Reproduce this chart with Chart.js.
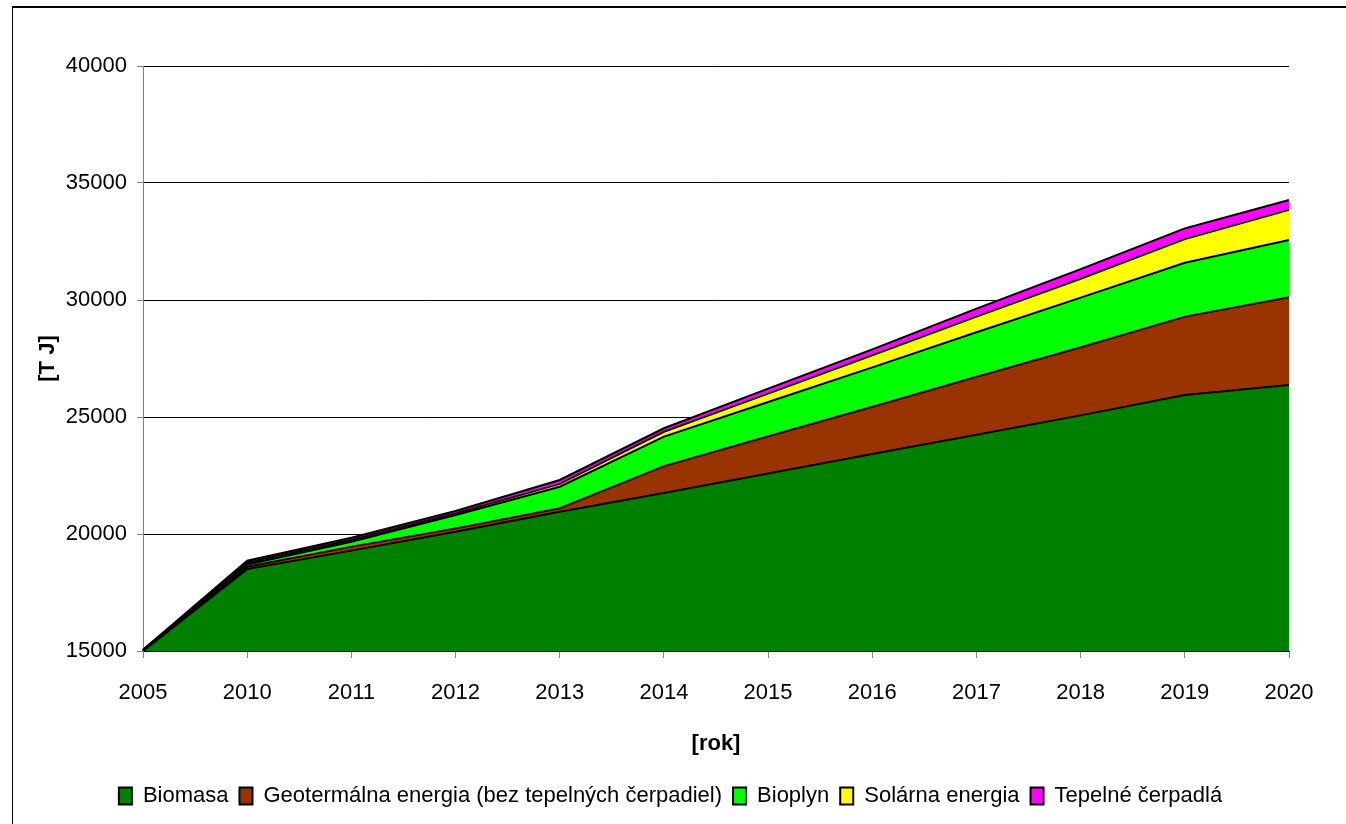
<!DOCTYPE html>
<html>
<head>
<meta charset="utf-8">
<script src="https://cdn.jsdelivr.net/npm/chart.js@4/dist/chart.umd.min.js"></script>
<style>
  body { margin: 0; overflow: hidden; background: #fff; }
  canvas { display: block; }
</style>
</head>
<body>
<canvas id="myChart" width="1346" height="824"></canvas>
<script>
// data
const years = ["2005", "2010", "2011", "2012", "2013", "2014", "2015", "2016", "2017", "2018", "2019", "2020"];
const biomasa = [15000, 18500, 19290, 20100, 20950, 21750, 22590, 23420, 24240, 25070, 25940, 26370];
const geotermalna = [0, 100, 170, 140, 150, 1150, 1590, 2020, 2480, 2910, 3350, 3750];
const bioplyn = [30, 100, 210, 570, 920, 1260, 1460, 1680, 1900, 2120, 2300, 2440];
const solarna = [10, 70, 70, 70, 120, 210, 360, 520, 670, 810, 1010, 1290];
const cerpadla = [10, 90, 100, 100, 170, 150, 210, 250, 340, 410, 460, 420];
const yTicks = [15000, 20000, 25000, 30000, 35000, 40000];

const font = "'Liberation Sans', Arial, sans-serif";

// frame round the picture, legend centred on the whole canvas
const frame = {
  id: "frame",
  afterLayout(chart) {
    chart.legend.left += 26;
    chart.legend.right += 26;
  },
  beforeDraw(chart) {
    const ctx = chart.ctx;
    ctx.save();
    ctx.fillStyle = "#fff";
    ctx.fillRect(0, 0, chart.width, chart.height);
    ctx.fillStyle = "#000";
    ctx.fillRect(12, 6, chart.width - 12, 2);
    ctx.fillRect(12, 6, 1, chart.height - 6);
    ctx.restore();
  },
};

const layer = (label, values, color, fill) => ({
  label,
  data: values,
  backgroundColor: color,
  borderColor: "#000",
  borderWidth: 2,
  fill,
  pointRadius: 0,
  tension: 0,
});

const data = {
  labels: years,
  datasets: [
    layer("Biomasa", biomasa, "#008000", "start"),
    layer("Geotermálna energia (bez tepelných čerpadiel)", geotermalna, "#993300", "-1"),
    layer("Bioplyn", bioplyn, "#00ff00", "-1"),
    layer("Solárna energia", solarna, "#ffff00", "-1"),
    layer("Tepelné čerpadlá", cerpadla, "#ff00ff", "-1"),
  ],
};

const config = {
  type: "line",
  data,
  options: {
    responsive: false,
    devicePixelRatio: 1,
    animation: false,
    layout: { padding: { left: 0, right: 57, top: 66, bottom: 7 } },
    plugins: {
      tooltip: { enabled: false },
      legend: {
        position: "bottom",
        labels: {
          color: "#000",
          font: { family: font, size: 22 },
          boxWidth: 13,
          boxHeight: 17,
          padding: 11,
        },
      },
    },
    scales: {
      x: {
        offset: false,
        border: { color: "#000", width: 1 },
        grid: { drawOnChartArea: false, drawTicks: true, tickLength: 7, tickColor: "#808080" },
        ticks: { color: "#000", font: { family: font, size: 22 }, maxRotation: 0, autoSkip: false, padding: 22 },
        title: { display: true, text: "[rok]", color: "#000", font: { family: font, size: 22, weight: "bold" }, padding: { top: 0, bottom: 17 } },
        afterFit(scale) { scale.height = 123; },
      },
      y: {
        stacked: true,
        min: yTicks[0],
        max: yTicks[yTicks.length - 1],
        border: { color: "#808080", width: 1 },
        grid: { color: "#000", lineWidth: 1, tickLength: 6, tickColor: "#808080" },
        afterBuildTicks(scale) { scale.ticks = yTicks.map((v) => ({ value: v })); },
        ticks: { color: "#000", font: { family: font, size: 22 }, padding: 10, callback: (v) => String(v) },
        title: { display: true, text: "[T J]", color: "#000", font: { family: font, size: 22, weight: "bold" }, padding: { top: 35, bottom: 0 } },
        afterFit(scale) { scale.width = 143; },
      },
    },
  },
  plugins: [frame],
};

const myChart = new Chart(document.getElementById("myChart"), config);
</script>
</body>
</html>
